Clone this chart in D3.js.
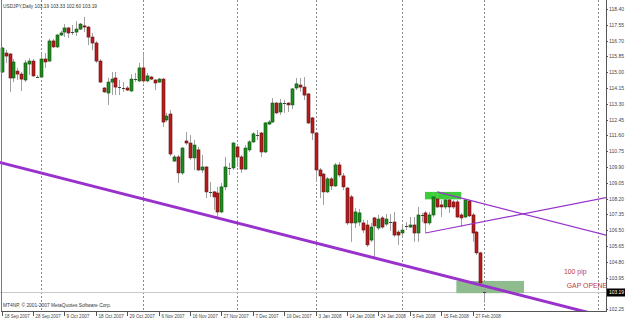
<!DOCTYPE html>
<html>
<head>
<meta charset="utf-8">
<script src="https://cdn.jsdelivr.net/npm/d3@7"></script>
<style>
body { margin: 0; background: #fff; }
svg { display: block; }
text { font-family: "Liberation Sans", Arial, sans-serif; }
</style>
</head>
<body>
<svg id="chart" width="625" height="319"></svg>
<script>
// USDJPY daily, bar 0 = 18 Sep 2007, bar 123 = 3 Mar 2008
const open = [115.01,116.03,115.98,114.69,115.06,114.90,114.58,115.44,115.60,114.74,
  114.74,115.71,115.60,116.68,116.36,117.00,117.16,117.38,117.16,117.16,
  117.32,117.49,117.43,116.89,116.57,115.60,114.15,113.88,114.47,114.69,
  114.20,114.15,114.15,113.99,114.63,114.53,115.23,114.53,114.74,114.58,
  114.47,114.63,112.43,112.75,110.22,110.44,109.58,111.30,111.19,110.39,
  110.82,109.74,109.90,108.56,108.56,108.50,107.48,108.83,109.85,109.85,
  110.98,110.44,109.79,110.82,111.25,111.62,111.73,110.71,112.21,112.32,
  113.34,112.86,113.34,113.34,113.24,114.15,114.31,114.20,113.83,112.54,
  111.73,109.74,109.52,108.56,109.26,108.88,110.01,109.42,108.77,108.29,
  106.89,106.94,106.89,106.78,105.97,107.16,106.62,107.16,106.83,106.94,
  106.94,106.40,106.35,106.73,106.67,106.78,106.35,107.32,107.43,106.89,
  107.32,108.18,107.86,107.75,108.13,108.02,108.02,107.32,107.21,108.07,
  107.32,106.40,105.28,103.19];
const high = [116.36,116.19,116.03,115.71,115.23,115.01,115.66,115.76,115.71,114.85,
  116.03,116.03,116.79,116.79,117.06,117.22,117.59,117.43,117.54,117.75,
  117.65,117.97,117.49,117.11,116.68,115.71,114.20,114.69,115.01,115.01,
  114.58,114.47,114.26,114.90,114.96,115.50,116.03,114.96,114.80,114.63,
  114.69,114.69,112.81,112.97,110.55,110.55,110.98,111.78,111.62,111.35,
  110.98,110.55,109.95,109.09,108.61,108.83,109.04,110.44,110.12,111.25,
  111.08,110.55,111.08,111.35,111.78,111.89,111.78,112.32,112.43,113.61,
  113.40,113.56,113.51,113.40,114.15,114.69,114.69,114.74,113.88,112.59,
  111.78,109.85,109.58,109.36,109.36,110.12,110.17,109.58,108.83,108.40,
  107.70,107.64,107.05,107.05,106.89,107.21,107.32,107.27,107.37,107.37,
  107.48,106.51,106.73,106.94,107.21,107.21,107.75,107.43,107.53,107.48,
  108.56,108.56,108.13,108.23,108.29,108.13,108.13,107.43,108.18,108.13,
  107.43,106.46,105.33,103.33];
const low = [114.96,115.50,113.94,114.47,114.58,113.99,114.47,114.85,114.74,114.69,
  114.69,115.23,115.55,116.30,116.30,116.95,116.89,116.84,117.00,116.95,
  117.27,117.16,116.46,116.19,115.50,114.42,113.88,113.24,113.77,113.77,
  113.77,113.94,113.99,113.94,114.47,114.47,114.42,114.47,114.58,114.04,
  114.42,112.05,112.32,110.49,110.17,109.04,109.47,111.08,110.28,109.74,
  109.69,109.58,108.23,108.29,107.59,107.21,107.43,108.66,109.47,109.74,
  109.90,109.58,109.74,110.71,111.19,111.35,110.44,110.65,112.16,112.27,
  112.75,112.70,112.81,112.86,113.02,114.04,113.94,113.51,112.21,111.35,
  109.09,108.23,107.86,108.50,108.66,108.83,109.36,108.66,106.78,105.87,
  106.62,106.73,106.35,105.60,105.87,104.95,106.51,106.57,106.73,106.46,
  106.14,105.71,106.19,106.51,106.62,105.87,105.87,106.94,106.35,106.78,
  107.21,107.70,107.21,107.64,107.43,107.64,107.16,106.67,107.16,107.21,
  105.87,105.17,103.61,102.60];
const close = [116.30,115.87,114.69,115.55,114.90,114.63,115.50,115.60,114.80,114.72,
  115.71,115.55,116.68,116.36,117.00,117.11,117.38,117.11,117.14,117.32,
  117.59,117.43,116.89,116.57,115.60,114.47,113.94,114.47,114.63,114.20,
  114.18,114.13,114.04,114.63,114.61,115.23,114.53,114.80,114.63,114.42,
  114.63,112.32,112.64,110.60,110.44,109.58,110.92,111.19,110.39,111.08,
  109.74,109.90,108.56,108.53,108.29,107.48,108.83,109.90,109.82,111.19,
  110.44,109.79,110.92,111.25,111.68,111.65,110.71,112.27,112.32,113.34,
  112.81,113.34,113.32,113.24,114.10,114.37,114.20,113.77,112.27,111.73,
  109.74,109.42,108.56,109.26,108.88,110.01,109.47,108.83,106.89,106.89,
  107.48,107.43,106.51,105.71,106.67,106.73,107.10,106.67,107.10,106.92,
  106.24,106.24,106.51,106.71,106.78,106.35,107.32,107.30,106.89,107.32,
  108.29,107.75,107.75,108.13,107.75,107.75,107.21,107.16,108.13,107.27,
  106.35,105.28,103.66,103.19];

const priceTicks = ["118.40","117.55","116.70","115.85","115.00","114.15","113.30","112.45",
  "111.60","110.75","109.90","109.05","108.20","107.35","106.50","105.65","104.80",
  "103.95","103.10","102.25"];
const dateLabels = ["18 Sep 2007","28 Sep 2007","9 Oct 2007","18 Oct 2007","29 Oct 2007",
  "6 Nov 2007","16 Nov 2007","27 Nov 2007","7 Dec 2007","19 Dec 2007","3 Jan 2008",
  "14 Jan 2008","24 Jan 2008","5 Feb 2008","15 Feb 2008","27 Feb 2008"];
const dateBars = [0,8,16,24,32,40,48,56,64,72,80,88,96,104,112,120];
const gridBars = [10,36,60,80,102,123,152];

// drawn objects (bar, price)
const mainLineBars = [0, 123], mainLinePrices = [110.12, 103.50];
const upperLineBars = [111, 140], upperLinePrices = [108.56, 106.99];
const lowerLineBars = [108, 140], lowerLinePrices = [106.35, 107.67];
const topBoxBars = [108, 117], topBoxPrices = [108.56, 108.16];
const gapBoxBars = [116, 133], gapBoxPrices = [103.77, 103.11];
const notes = ["100 pip", "GAP OPENED"];
const noteBars = [143.3, 144], notePrices = [104.15, 103.40];
const lastPrice = 103.19;

const plotR = 606, plotB = 311;
const svg = d3.select('#chart');
const x = d3.scaleLinear().domain([0, 123]).range([1.7, 484.3]);
const y = d3.scaleLinear().domain([102.25, 118.40]).range([309.2, 9]);

svg.append('rect').attr('width', 625).attr('height', 319).attr('fill', '#fff');
svg.append('clipPath').attr('id', 'plot')
  .append('rect').attr('x', 0).attr('y', 0).attr('width', plotR).attr('height', plotB);
const g = svg.append('g').attr('clip-path', 'url(#plot)');

// month grid
g.selectAll('line.grid')
  .data(gridBars)
  .enter()
  .append('line')
  .attr('x1', d => Math.round(x(d)) + 0.5).attr('x2', d => Math.round(x(d)) + 0.5)
  .attr('y1', 0).attr('y2', plotB)
  .attr('stroke', '#8a8a8a').attr('stroke-dasharray', '2,2');

// last price line
g.append('line')
  .attr('x1', 0).attr('x2', plotR)
  .attr('y1', Math.round(y(lastPrice)) + 0.5).attr('y2', Math.round(y(lastPrice)) + 0.5)
  .attr('stroke', '#c8c8c8');

const box = (bars, prices, fill) => g.append('rect')
  .attr('x', x(bars[0]) - 0.5)
  .attr('y', y(prices[0]))
  .attr('width', x(bars[1]) - x(bars[0]) + 1)
  .attr('height', y(prices[1]) - y(prices[0]))
  .attr('fill', fill);
box(topBoxBars, topBoxPrices, '#3ccc3c');
box(gapBoxBars, gapBoxPrices, '#8fbc8f');

// candles
const bars = open.map((o, i) => ({i, o, h: high[i], l: low[i], c: close[i]}));
const items = g.selectAll('g.bar')
  .data(bars)
  .enter()
  .append('g')
  .classed('bar', true)
  .attr('transform', d => `translate(${Math.round(x(d.i))},0)`);

items.append('line')
  .attr('x1', 0.5).attr('x2', 0.5)
  .attr('y1', d => y(d.h)).attr('y2', d => y(d.l))
  .attr('stroke', '#a0a0a0');

items.filter(d => Math.abs(y(d.o) - y(d.c)) >= 1)
  .append('rect')
  .attr('x', -1).attr('width', 3)
  .attr('y', d => y(Math.max(d.o, d.c)))
  .attr('height', d => Math.abs(y(d.o) - y(d.c)))
  .attr('fill', d => d.c > d.o ? '#1f8a1f' : '#b51d1d')
  .attr('stroke', d => d.c > d.o ? '#0c4f0c' : '#651010')
  .attr('stroke-width', 0.6);

items.filter(d => Math.abs(y(d.o) - y(d.c)) < 1)
  .append('line')
  .attr('x1', -1).attr('x2', 2)
  .attr('y1', d => Math.round(y(d.o)) + 0.5).attr('y2', d => Math.round(y(d.o)) + 0.5)
  .attr('stroke', '#444');

// trend lines
const lineThrough = (bars, prices, fromX, toX) => {
  const x0 = x(bars[0]), y0 = y(prices[0]);
  const k = (y(prices[1]) - y0) / (x(bars[1]) - x0);
  return [[fromX, y0 + k * (fromX - x0)], [toX, y0 + k * (toX - x0)]];
};
const purple = '#9932cc';
g.append('path')
  .attr('d', d3.line()(lineThrough(mainLineBars, mainLinePrices, -5, 700)))
  .attr('stroke', purple).attr('stroke-width', 3).attr('fill', 'none');
g.append('path')
  .attr('d', d3.line()(lineThrough(upperLineBars, upperLinePrices, x(upperLineBars[0]), 700)))
  .attr('stroke', purple).attr('stroke-width', 1.2).attr('fill', 'none');
g.append('path')
  .attr('d', d3.line()(lineThrough(lowerLineBars, lowerLinePrices, x(lowerLineBars[0]), 700)))
  .attr('stroke', purple).attr('stroke-width', 1.2).attr('fill', 'none');

// text notes
g.selectAll('text.note')
  .data(notes)
  .enter()
  .append('text')
  .attr('x', (d, i) => x(noteBars[i]))
  .attr('y', (d, i) => y(notePrices[i]))
  .attr('font-size', 6.9)
  .attr('fill', '#c0403a')
  .text(d => d);

svg.append('text').attr('x', 3).attr('y', 7.5)
  .attr('font-size', 5.5).attr('fill', '#333')
  .attr('textLength', 94).attr('lengthAdjust', 'spacingAndGlyphs')
  .text(`USDJPY,Daily  ${open[123].toFixed(2)} ${high[123].toFixed(2)} ${low[123].toFixed(2)} ${close[123].toFixed(2)}`);
svg.append('text').attr('x', 3).attr('y', 307)
  .attr('font-size', 5.5).attr('fill', '#333')
  .attr('textLength', 108).attr('lengthAdjust', 'spacingAndGlyphs')
  .text('MT4NP, © 2001-2007 MetaQuotes Software Corp.');

// frame
svg.append('line').attr('x1', 1.5).attr('x2', 1.5).attr('y1', 0).attr('y2', plotB)
  .attr('stroke', '#7a7a7a');
svg.append('line').attr('x1', plotR + 0.5).attr('x2', plotR + 0.5).attr('y1', 0).attr('y2', plotB + 0.5)
  .attr('stroke', '#555');
svg.append('line').attr('x1', 1).attr('x2', plotR + 1).attr('y1', plotB + 0.5).attr('y2', plotB + 0.5)
  .attr('stroke', '#555');

// price axis
const pa = svg.selectAll('g.ptick')
  .data(priceTicks)
  .enter()
  .append('g')
  .attr('transform', d => `translate(0,${Math.round(y(+d)) + 0.5})`);
pa.append('line').attr('x1', plotR).attr('x2', plotR + 2).attr('stroke', '#555');
pa.append('text').attr('x', plotR + 3).attr('dy', '0.35em')
  .attr('font-size', 5.5).attr('fill', '#444')
  .attr('textLength', 15).attr('lengthAdjust', 'spacingAndGlyphs')
  .text(d => d);

const ly = Math.round(y(lastPrice)) + 0.5;
svg.append('rect').attr('x', plotR + 1).attr('y', ly - 4).attr('width', 19).attr('height', 8).attr('fill', '#000');
svg.append('text').attr('x', plotR + 3).attr('y', ly).attr('dy', '0.35em')
  .attr('font-size', 5.5).attr('fill', '#fff')
  .attr('textLength', 15).attr('lengthAdjust', 'spacingAndGlyphs')
  .text(lastPrice.toFixed(2));

// date axis
const da = svg.selectAll('g.dtick')
  .data(dateLabels)
  .enter()
  .append('g')
  .attr('transform', (d, i) => `translate(${Math.round(x(dateBars[i])) + 0.5},0)`);
da.append('line').attr('y1', plotB).attr('y2', plotB + 5).attr('stroke', '#555');
da.append('text').attr('x', 2).attr('y', 318)
  .attr('font-size', 5.5).attr('fill', '#444')
  .attr('textLength', d => d.length * 2.3).attr('lengthAdjust', 'spacingAndGlyphs')
  .text(d => d);
</script>
</body>
</html>
